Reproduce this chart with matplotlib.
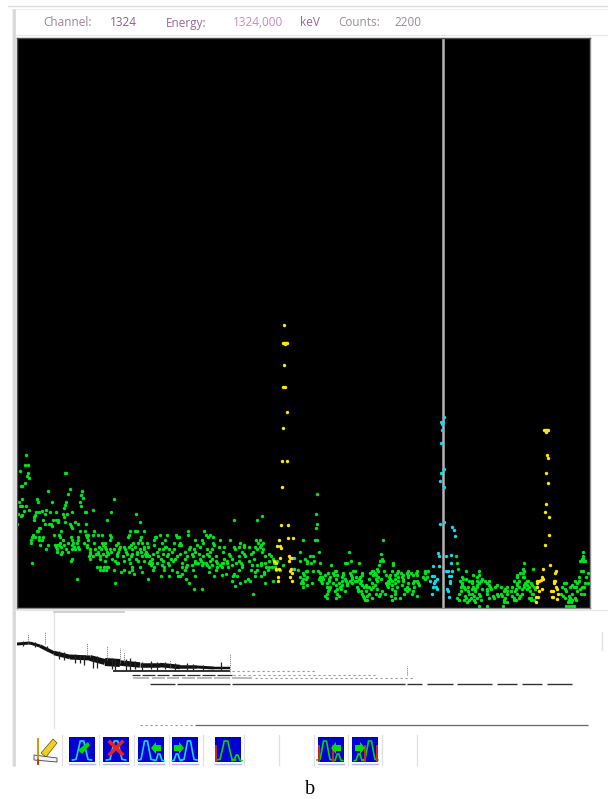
import matplotlib
matplotlib.use("Agg")
import matplotlib.pyplot as plt
from matplotlib.patches import Rectangle, Polygon
import numpy as np

W, H = 608, 799

# spectrum points, grouped by height above the baseline
green_levels = [153, 143, 137, 135, 132, 130, 125, 122, 119, 117, 114, 113, 110, 109, 106, 103, 102, 100, 98, 97,
                96, 94, 93, 92, 91, 88, 86, 84, 82, 80, 77, 73, 71, 68, 65, 63, 61, 59, 56, 54,
                52, 49, 47, 45, 43, 41, 39, 38, 37, 36, 35, 34, 33, 32, 31, 29, 27, 25, 23, 22,
                21, 19, 17, 14, 12, 10, 8, 6, 2]
green_bins = [
    [9], [8, 11], [3], [11, 48, 49], [10], [12], [8], [4, 5], [53], [31, 65], [51, 300], [64], [66], [97, 5, 20],
    [2, 21, 35, 63, 49], [48], [3, 5, 9, 64], [47], [12, 29, 76], [7, 25],
    [19, 22, 33, 39, 55, 68, 69, 94], [1, 28, 46, 50, 119, 299], [5, 18], [4, 245], [17, 47],
    [90, 17, 217, 240, 26, 36, 39, 41], [123, 41, 48, 58], [0, 28, 32, 34, 53, 61, 69, 300], [35, 54],
    [299, 23, 55, 22], [21, 20, 44, 63, 68, 77, 118, 120, 113, 127, 171, 187],
    [16, 37, 42, 71, 69, 76, 81, 85, 93, 112, 143, 150, 159, 171, 189, 193],
    [15, 18, 22, 26, 43, 54, 61, 70, 94, 111, 124, 138, 139, 160, 162, 191, 196],
    [14, 22, 25, 46, 55, 61, 71, 93, 123, 137, 148, 178, 185, 203, 213, 239, 243, 286, 298, 300, 366],
    [14, 43, 51, 56, 60, 67, 77, 85, 88, 101, 116, 121, 125, 130, 145, 157, 163, 186, 196, 223, 241, 246],
    [23, 31, 38, 40, 42, 47, 55, 70, 86, 99, 114, 137, 162, 164, 180, 197, 227, 244],
    [39, 44, 57, 61, 70, 82, 88, 103, 107, 112, 118, 127, 131, 148, 149, 173, 183, 202, 207, 217, 222, 227, 232, 238, 243],
    [29, 40, 49, 55, 58, 62, 73, 78, 84, 89, 93, 97, 102, 108, 115, 123, 127, 142, 146, 152, 157, 172, 177, 190, 195, 218, 240, 246],
    [40, 45, 51, 73, 81, 90, 94, 101, 109, 120, 124, 129, 140, 155, 168, 178, 193, 206, 225, 236, 245, 283, 302, 332, 566],
    [44, 73, 79, 81, 86, 91, 100, 110, 115, 120, 128, 130, 136, 146, 151, 163, 175, 182, 190, 212, 227, 234, 252, 364],
    [72, 76, 83, 89, 100, 106, 114, 125, 129, 132, 141, 150, 160, 170, 176, 186, 192, 199, 213, 222, 228, 248, 254, 293, 296, 439, 566],
    [55, 73, 83, 95, 112, 119, 135, 144, 154, 158, 168, 183, 195, 207, 215, 237, 256, 365, 288, 565, 566],
    [54, 88, 98, 107, 121, 127, 133, 146, 156, 178, 184, 193, 199, 210, 222, 232, 252, 260, 363, 297, 283, 334, 290, 366, 563, 566, 568],
    [15, 100, 101, 113, 132, 135, 140, 151, 165, 178, 180, 181, 186, 189, 200, 205, 206, 210, 219, 224, 244, 248, 257, 303, 328, 330, 342, 376, 294, 290, 440, 507],
    [134, 145, 152, 170, 175, 185, 190, 195, 203, 215, 225, 235, 240, 244, 266, 376, 314, 362],
    [80, 83, 87, 90, 91, 115, 123, 137, 147, 165, 169, 192, 200, 205, 211, 225, 249, 252, 255, 258],
    [360, 441, 516, 506],
    [83, 86, 89, 97, 107, 115, 136, 147, 155, 168, 176, 199, 222, 234, 240, 251, 259, 263, 281],
    [289, 290, 296, 301, 318, 319, 336, 338, 355, 356, 361, 367, 375, 381, 391, 400, 408, 411, 449, 462, 507, 564, 566],
    [104, 112, 125, 160, 192, 238, 247],
    [286, 303, 311, 316, 326, 333, 345, 353, 358, 380, 384, 390, 394, 399, 408, 503, 506, 571],
    [117, 165, 209, 217, 247],
    [287, 308, 317, 320, 326, 334, 345, 356, 359, 369, 373, 378, 386, 391, 396, 400, 456, 462, 500, 205],
    [144, 152, 161, 163, 178, 197, 216, 220, 238, 244],
    [283, 290, 303, 305, 313, 325, 335, 339, 343, 361, 372, 381, 385, 391, 406, 410, 445, 460, 500, 506, 507, 562, 569],
    [60, 131, 169, 231, 286, 289, 302, 306, 312, 319, 328, 335, 342, 352, 359, 364, 373, 378, 386, 408, 446, 449, 465],
    [215, 228, 233, 256, 285, 304, 312, 325, 329, 333, 338, 340, 344, 360, 371, 375, 381, 386, 397, 400, 443, 452, 455, 460, 464, 468, 472, 497, 502, 510, 511, 558, 562],
    [98, 172, 223, 248, 284, 286, 295, 305, 310, 316, 322, 330, 335, 343, 355, 369, 372, 378, 391, 396, 401, 445, 455, 462, 470, 500, 508, 514, 547, 549, 560, 568, 571],
    [290, 319, 325, 330, 345, 349, 358, 370, 375, 385, 402, 445, 460, 472, 480, 500, 507, 510, 515, 555],
    [218],
    [286, 310, 313, 323, 340, 347, 350, 352, 356, 371, 380, 390, 397, 444, 447, 451, 456, 460, 473, 478, 484, 490, 495, 502, 507, 512, 517, 545, 553, 557, 559, 565, 566, 567],
    [177, 185, 312, 320, 324, 341, 354, 360, 375, 388, 392, 448, 455, 458, 465, 470, 474, 488, 499, 505, 510, 518, 548, 563],
    [311, 318, 328, 341, 344, 349, 365, 378, 390, 396, 444, 451, 458, 470, 487, 490, 494, 498, 513, 549, 560],
    [236, 310, 320, 345, 352, 359, 363, 368, 378, 387, 395, 442, 452, 455, 462, 470, 480, 484, 490, 500, 505, 515, 516, 544, 555, 564, 567],
    [308, 322, 346, 350, 362, 374, 400, 448, 457, 463, 476, 481, 485, 495, 503, 546, 552],
    [310, 319, 347, 355, 378, 383, 440, 449, 454, 460, 472, 477, 488, 497, 502, 512, 514, 548, 553, 558],
    [348, 350, 375, 442, 447, 452, 457, 464, 487, 497, 499, 514, 517, 552, 555, 559],
    [450, 458, 487, 490, 551, 554],
    [462, 470, 486, 549, 552, 555, 557],
]

yellow_bins = [267, 266, 267, 268, 269, 270, 268, 267, 266, 268, 270, 266, 265, 270, 265, 264, 271, 271, 276, 262,
               260, 263, 264, 263, 272, 273, 275, 272, 257, 259, 274, 273, 275, 259, 262, 273, 261, 261, 275,
               529, 527, 528, 530, 531, 529, 530, 531, 529, 531, 529, 528, 532, 532, 528, 533, 526, 539, 538, 525,
               526, 524, 520, 522, 520, 537, 538, 537, 520, 525, 522, 539, 540, 534, 536, 541, 519, 521, 535, 536, 540, 519]
yellow_levels = [283, 265, 265, 265, 265, 265, 264, 243, 221, 221, 196, 180, 147, 147, 121, 83, 83, 70, 70, 68,
                 62, 62, 60, 50, 52, 50, 50, 47, 47, 45, 39, 37, 35, 39, 39, 31, 31, 27, 27,
                 178, 178, 178, 178, 178, 176, 153, 150, 135, 125, 104, 96, 91, 73, 63, 43, 39, 37, 35, 31,
                 29, 28, 27, 27, 25, 27, 27, 25, 21, 19, 17, 21, 19, 17, 17, 14, 11, 11, 11, 11, 9, 6]

cyan_bins = [427, 424, 426, 425, 425, 424, 427, 424, 423, 427, 427, 423, 435, 437, 438, 421, 422, 429, 434, 416,
             422, 434, 429, 431, 435, 415, 417, 432, 434, 420, 418, 413, 433, 433, 417, 416, 419, 420, 430, 431,
             415, 432, 277, 277]
cyan_levels = [191, 186, 186, 184, 178, 165, 139, 135, 127, 121, 86, 84, 81, 78, 72, 55, 52, 52, 53, 42,
               42, 45, 37, 37, 37, 32, 32, 32, 32, 29, 27, 27, 27, 25, 25, 21, 21, 19, 19, 17,
               14, 11, 50, 39]

cursor_bin = 426

# overview strip
overview_bins = [0, 13, 23, 37, 53, 73, 88, 103, 123, 143, 163, 180, 197, 213]
overview_heights = [84, 85, 82, 75, 71, 70, 66, 65, 63, 63, 61, 61, 60, 60]
overview_widths = [3, 3, 3.5, 4.5, 5, 6, 8, 5.5, 4.5, 4.5, 3.5, 3, 2.5, 1.5]
spike_bins = [11, 28, 70, 90, 103, 107, 153, 213, 390]
spike_tops = [94, 96, 85, 82, 80, 76, 68, 74, 62]
spike_bottoms = [84, 84, 73, 68, 65, 66, 60, 56, 53]
# short dark flecks that roughen the band
fleck_bins = [6, 18, 30, 42, 47, 58, 63, 67, 76, 80, 95, 98, 109, 113, 118, 125, 134, 140, 148, 158, 170, 176, 186, 204]
fleck_tops = [87, 86, 82, 77, 76, 74, 73, 73, 70, 72, 70, 69, 69, 70, 67, 66, 67, 66, 66, 65, 65, 64, 63, 66]
fleck_bottoms = [82, 81, 77, 69, 68, 65, 65, 63, 60, 60, 59, 58, 58, 58, 59, 58, 59, 58, 59, 58, 58, 58, 58, 58]
band_heights = [57, 53, 50, 44, 3]
band_starts = [[96], [115, 125, 140, 155, 170, 185, 200], [116, 135, 150, 165, 180, 197, 215], [133, 160, 215, 390, 410, 440, 480, 505, 530], [178]]
band_ends = [[213], [123, 138, 152, 168, 183, 198, 215], [132, 148, 162, 178, 195, 213, 235], [158, 213, 388, 405, 436, 475, 500, 525, 555], [571]]
faint_starts = [[215], [216], [238], [], [123]]
faint_ends = [[300], [358], [398], [], [176]]

labels = ["Channel:", "1324", "Energy:", "1324,000", "keV", "Counts:", "2200"]
label_colors = ["#9a8496", "#965a96", "#9a6a8e", "#d088ba", "#966a8e", "#9a9096", "#9a8a9a"]
label_x = [43, 110, 166, 233, 300, 338, 394]

fig = plt.figure(figsize=(W / 100, H / 100), dpi=100, facecolor="white")


def box(x0, y0, x1, y1):
    return [x0 / W, 1 - y1 / H, (x1 - x0) / W, (y1 - y0) / H]


# page furniture, in pixels of the figure
page = fig.add_axes([0, 0, 1, 1], zorder=0)
page.set_xlim(0, W)
page.set_ylim(H, 0)
page.axis("off")
page.plot([8, 608], [6, 6], color="#dcdcdc", lw=1)
page.plot([11, 608], [9, 9], color="#efefef", lw=0.8)
page.plot([13, 608], [35, 35], color="#e8e8e8", lw=0.8)
page.plot([14, 14], [10, 765], color="#d4d4d4", lw=1.8)
page.plot([12, 12], [10, 765], color="#eeeeee", lw=0.8)
page.plot([14, 608], [610, 610], color="#e6e6e6", lw=0.8)
page.plot([54, 54], [612, 728], color="#e2e2e2", lw=0.9)
page.plot([54, 124], [612, 612], color="#c8c8c8", lw=1.2)
page.plot([602, 602], [632, 650], color="#e2e2e2", lw=1)

for text, col, x in zip(labels, label_colors, label_x):
    page.text(x, 23, text, color=col, fontsize=8.5, family="Open Sans", va="center", ha="left")
page.text(310, 790, "b", fontsize=14.5, family="Liberation Serif", ha="center", va="center", color="black")

# main spectrum
ax = fig.add_axes(box(17, 38, 590, 608), zorder=1)
ax.set_facecolor("black")
ax.set_xlim(0, 573)
ax.set_ylim(0, 570)
ax.set_xticks([])
ax.set_yticks([])
for name, spine in ax.spines.items():
    spine.set_color("#8c8c8c")
    spine.set_linewidth(1)
ax.spines["left"].set_color("#505050")
ax.spines["top"].set_color("#505050")

ax.axvline(cursor_bin, color="#b4b4b4", lw=1.8, zorder=1)
for level, bins in zip(green_levels, green_bins):
    ax.scatter(bins, [level] * len(bins), s=6, marker="o", color="#00e61e", linewidths=0, zorder=2)
ax.scatter(yellow_bins, yellow_levels, s=6, marker="o", color="#ffe600", linewidths=0, zorder=3)
ax.scatter(cyan_bins, cyan_levels, s=6, marker="o", color="#12dcec", linewidths=0, zorder=3)

# overview strip
ov = fig.add_axes(box(17, 612, 590, 728), zorder=1)
ov.set_xlim(0, 573)
ov.set_ylim(0, 116)
ov.axis("off")
for i in range(len(overview_bins) - 1):
    ov.plot(overview_bins[i:i + 2], overview_heights[i:i + 2], color="#111111",
            lw=overview_widths[i] * 0.72, solid_capstyle="butt")
ov.vlines(fleck_bins, fleck_bottoms, fleck_tops, color="#222222", lw=0.9)
ov.vlines(spike_bins, spike_bottoms, spike_tops, color="#777777", lw=0.6, linestyles=(0, (1.5, 1)))
band_cols = ["#222222", "#333333", "#b4b4b4", "#333333", "#666666"]
band_lws = [1.3, 0.9, 1.3, 1.0, 0.9]
for i, h in enumerate(band_heights):
    ov.hlines([h] * len(band_starts[i]), band_starts[i], band_ends[i], color=band_cols[i], lw=band_lws[i])
    ov.hlines([h] * len(faint_starts[i]), faint_starts[i], faint_ends[i], color="#999999", lw=0.8,
              linestyles=(0, (2, 2.5)))


# toolbar icons
def peak(x0, y0, cx, w, top, col, lw=1.2):
    xs = np.array([-1.6, -1, -0.55, -0.3, 0.3, 0.55, 1, 1.6]) * w + cx
    ys = y0 - np.array([0.05, 0.08, 0.65, 1, 1, 0.65, 0.08, 0.05]) * top
    page.plot(xs, ys, color=col, lw=lw, solid_joinstyle="round", zorder=3)


def arrow(x, y, d, col="#00e000"):
    page.add_patch(Polygon([(x, y), (x + d * 5, y - 6), (x + d * 5, y - 3), (x + d * 10, y - 3),
                            (x + d * 10, y + 3), (x + d * 5, y + 3), (x + d * 5, y + 6)],
                           color=col, lw=0, zorder=4))


icon_x = [69, 103, 138, 172, 215, 318, 352]
for x in icon_x:
    page.add_patch(Rectangle((x, 737), 26, 25, color="#0000d2", lw=0, zorder=2))
    page.plot([x, x + 26], [763.5, 763.5], color="#b4b4f0", lw=1, zorder=2)

peak(69, 761, 82, 6, 20, "#18d8e8")
page.add_patch(Polygon([(78, 750), (88, 742), (90, 745), (82, 754)], color="#00d800", lw=0, zorder=4))
peak(103, 761, 116, 6, 20, "#18d8e8")
page.plot([110, 122], [742, 754], color="#f02020", lw=2.6, zorder=4)
page.plot([122, 110], [742, 754], color="#f02020", lw=2.6, zorder=4)
peak(138, 761, 146, 5, 20, "#18d8e8")
peak(138, 761, 159, 3, 7, "#18d8e8")
arrow(151, 748, 1)
peak(172, 761, 189, 5, 20, "#18d8e8")
peak(172, 761, 177, 3, 7, "#18d8e8")
arrow(184, 748, -1)
peak(215, 761, 226, 6, 20, "#00d800")
peak(215, 761, 237, 3, 6, "#00d800")
page.plot([216, 216], [746, 761], color="#e02020", lw=1.4, zorder=4)
peak(318, 761, 325, 5, 20, "#00d800")
peak(318, 761, 338, 3, 7, "#00d800")
page.plot([319, 319], [746, 761], color="#e02020", lw=1.4, zorder=4)
page.plot([333, 333], [746, 761], color="#e02020", lw=1.4, zorder=4)
arrow(331, 748, 1)
peak(352, 761, 370, 5, 20, "#00d800")
peak(352, 761, 359, 3, 7, "#00d800")
page.plot([365, 365], [746, 761], color="#e02020", lw=1.4, zorder=4)
page.plot([377, 377], [746, 761], color="#e02020", lw=1.4, zorder=4)
arrow(365, 748, -1)

# pencil and ruler icon
page.add_patch(Polygon([(41, 753), (53, 739), (57, 743), (46, 757)], color="#f0d020", ec="#605010", lw=0.5, zorder=3))
page.add_patch(Polygon([(34, 755), (57, 758), (57, 762), (34, 760)], color="#f4f4f4", ec="#404040", lw=0.6, zorder=3))
page.plot([38, 38], [739, 764], color="#c89000", lw=1.3, zorder=4)
page.plot([38, 38], [760, 764], color="#e02020", lw=1.3, zorder=5)

for x in [62, 99, 134, 169, 203, 244, 279, 314, 348, 382, 417]:
    page.plot([x, x], [735, 765], color="#e0e0e0", lw=0.9)

fig.savefig("out.png", dpi=100)
